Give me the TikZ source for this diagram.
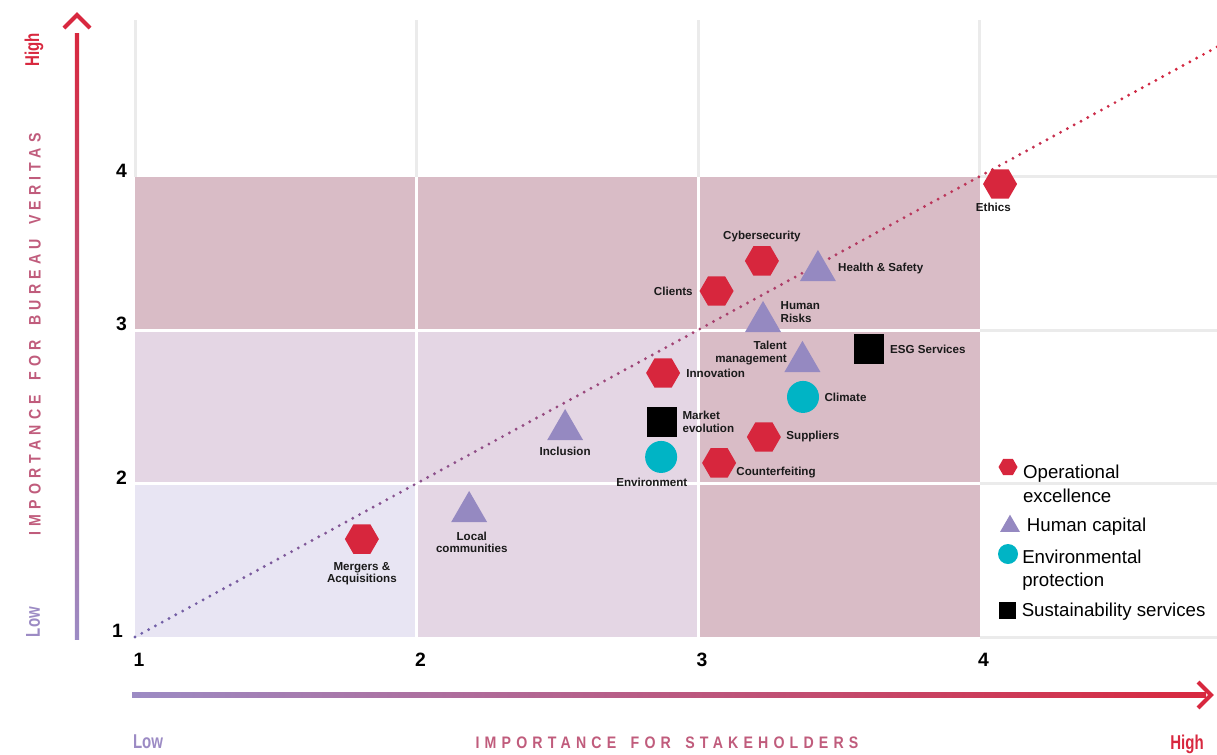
\documentclass[tikz,border=0pt]{standalone}
\usepackage{fontspec}
\setmainfont{Liberation Sans}
\newfontfamily\condfont[FakeStretch=0.75]{Liberation Sans Bold}
\newfontfamily\titlefont[FakeStretch=0.85,LetterSpace=31]{Liberation Sans Bold}
\usetikzlibrary{positioning,shapes.geometric}

\definecolor{opred}{HTML}{D7263D}
\definecolor{humpurple}{HTML}{9589C1}
\definecolor{envteal}{HTML}{00B4C5}
\definecolor{celldark}{HTML}{D9BCC6}
\definecolor{cellmid}{HTML}{E4D6E4}
\definecolor{celllight}{HTML}{E8E5F3}
\definecolor{gridgrey}{HTML}{EBEBEB}
\definecolor{axpurple}{HTML}{9C8BC4}
\definecolor{axred}{HTML}{D8283F}
\definecolor{dotpurple}{HTML}{7060A8}
\definecolor{titlemauve}{HTML}{C05C7C}
\definecolor{lbltext}{HTML}{1A1A1A}

\tikzset{
  marker/.style={inner sep=0pt, outer sep=0pt, draw=none},
  opex/.style={marker, regular polygon, regular polygon sides=6, minimum size=25.5pt, fill=opred},
  humcap/.style={marker, regular polygon, regular polygon sides=3, minimum size=31.2pt, fill=humpurple},
  envpro/.style={marker, circle, minimum size=24pt, fill=envteal},
  sustser/.style={marker, rectangle, minimum size=22.5pt, fill=black},
  lbl/.style={inner sep=0pt, font=\fontsize{8.7}{9.5}\selectfont\bfseries, text=lbltext},
  legtxt/.style={inner sep=0pt, align=left, font=\fontsize{14}{17.5}\selectfont, text=black},
  ticklbl/.style={inner sep=0pt, font=\fontsize{14.5}{16}\selectfont\bfseries, text=black},
  axtitle/.style={inner sep=0pt, font=\titlefont\fontsize{12.5}{14}\selectfont, text=titlemauve},
  hightxt/.style={inner sep=0pt, font=\condfont\fontsize{15}{17}\selectfont, text=axred},
  lowtxt/.style={inner sep=0pt, font=\condfont\fontsize{15}{17}\selectfont, text=axpurple},
  whiteline/.style={white, line width=2.25pt},
  greyline/.style={gridgrey, line width=2.25pt},
  chevron/.style={axred, line width=3pt, miter limit=10}
}

\begin{document}
\begin{tikzpicture}[x=0.75pt, y=-0.75pt]
  \useasboundingbox (0,0) rectangle (1217,754);

  % grid and matrix, in data units
  \begin{scope}[shift={(-146.5,790.5)}, x=211.125pt, y=115.125pt]
    \foreach \k in {1,...,4}{
      \draw[greyline] (\k,4) -- (\k,5.02);
      \draw[greyline] (4,\k) -- (4.844,\k);
    }
    \fill[celldark] (1,3) rectangle (4,4);
    \fill[celldark] (3,1) rectangle (4,3);
    \fill[cellmid] (1,2) rectangle (3,3);
    \fill[cellmid] (2,1) rectangle (3,2);
    \fill[celllight] (1,1) rectangle (2,2);
    \foreach \k in {2,3}{
      \draw[whiteline] (\k,1) -- (\k,4);
      \draw[whiteline] (1,\k) -- (4,\k);
    }

    % diagonal
    \foreach \i in {0,...,159}{
      \pgfmathtruncatemacro\pc{100*\i/159}
      \pgfmathsetmacro\t{1+3.844*\i/159}
      \fill[fill=opred!\pc!dotpurple] (\t,\t) circle[radius=1.2pt];
    }

    % ticks
    \foreach \k in {1,...,4}{
      \node[ticklbl, anchor=base west] (xt\k) at (\k-0.006,0.805) {\k};
    }
    \foreach \k in {2,...,4}{
      \node[ticklbl, anchor=base east] (yt\k) at (0.972,\k-0.005) {\k};
    }
    \node[ticklbl, anchor=base east] (yt1) at (0.958,0.995) {1};

    % operational excellence
    \node[opex] (ethics) at (4.073,3.951) {};
    \node[opex] (cyber) at (3.227,3.450) {};
    \node[opex] (clients) at (3.066,3.254) {};
    \node[opex] (innov) at (2.876,2.720) {};
    \node[opex] (suppl) at (3.234,2.303) {};
    \node[opex] (counter) at (3.075,2.134) {};
    \node[opex] (merg) at (1.806,1.638) {};
    % human capital
    \node[humcap] (hs) at (3.426,3.386) {};
    \node[humcap] (hr) at (3.231,3.054) {};
    \node[humcap] (talent) at (3.371,2.794) {};
    \node[humcap] (incl) at (2.528,2.350) {};
    \node[humcap] (local) at (2.187,1.816) {};
    % environmental protection
    \node[envpro] (climate) at (3.373,2.564) {};
    \node[envpro] (env) at (2.869,2.173) {};
    % sustainability services
    \node[sustser] (esg) at (3.607,2.876) {};
    \node[sustser] (market) at (2.872,2.401) {};

    \node[lbl, below=3pt of ethics, xshift=-5pt] (ethicsl) {Ethics};
    \node[lbl, above=3pt of cyber] (cyberl) {Cybersecurity};
    \node[lbl, left=5pt of clients] (clientsl) {Clients};
    \node[lbl, right=4.5pt of innov] (innovl) {Innovation};
    \node[lbl, right=4pt of suppl] (suppll) {Suppliers};
    \node[lbl, right=0pt of counter, yshift=-7pt] (counterl) {Counterfeiting};
    \node[lbl, below=6pt of merg, align=center] (mergl) {Mergers \&\\Acquisitions};
    \node[lbl, right=6pt of hs, yshift=2pt] (hsl) {Health \& Safety};
    \node[lbl, right=4pt of hr, yshift=7pt, align=left] (hrl) {Human\\Risks};
    \node[lbl, left=2.5pt of talent, yshift=6.5pt, align=right] (talentl) {Talent\\management};
    \node[lbl, below=5pt of incl] (incll) {Inclusion};
    \node[lbl, below=7pt of local, xshift=2pt, align=center] (locall) {Local\\communities};
    \node[lbl, right=4pt of climate] (climatel) {Climate};
    \node[lbl, below=4pt of env, xshift=-7pt] (envl) {Environment};
    \node[lbl, right=4.5pt of esg] (esgl) {ESG Services};
    \node[lbl, right=4pt of market, align=left] (marketl) {Market\\evolution};
  \end{scope}

  % axes
  \shade[bottom color=axpurple, top color=axred] (74.8,33) rectangle (79.2,639);
  \shade[left color=axpurple, right color=axred] (132,692.8) rectangle (1206,697.2);
  \coordinate (ytip) at (77,15);
  \coordinate (xtip) at (1211,695);
  \draw[chevron] ([shift={(-13,13)}]ytip) -- (ytip) -- ([shift={(13,13)}]ytip);
  \draw[chevron] ([shift={(-13,-13)}]xtip) -- (xtip) -- ([shift={(-13,13)}]xtip);

  \node[axtitle, rotate=90] (ytitle) at (35,334.5) {IMPORTANCE\hspace{4pt} FOR\hspace{4pt} BUREAU\hspace{4pt} VERITAS};
  \node[hightxt, rotate=90] (yhigh) at (34,50) {High};
  \node[lowtxt, rotate=90] (ylow) at (33,622) {Low};
  \node[axtitle] (xtitle) at (667,743) {IMPORTANCE\hspace{4pt} FOR\hspace{4pt} STAKEHOLDERS};
  \node[lowtxt] (xlow) at (148,742) {Low};
  \node[hightxt] (xhigh) at (1187,744) {High};

  % legend
  \node[opex, minimum size=14.25pt] (lgopex) at (1008,467) {};
  \node[legtxt, right=4pt of lgopex, yshift=-12.5pt] (lgopext) {Operational\\excellence};
  \node[humcap, minimum size=17.3pt] (lghum) at (1010,526.2) {};
  \node[legtxt, right=7.5pt of lghum] (lghumt) {Human capital};
  \node[envpro, minimum size=15pt] (lgenv) at (1008,554) {};
  \node[legtxt, right=3pt of lgenv, yshift=-12pt] (lgenvt) {Environmental\\protection};
  \node[sustser, minimum size=12.75pt] (lgsus) at (1007,610) {};
  \node[legtxt, right=4.5pt of lgsus, yshift=-1.5pt] (lgsust) {Sustainability services};
\end{tikzpicture}
\end{document}
